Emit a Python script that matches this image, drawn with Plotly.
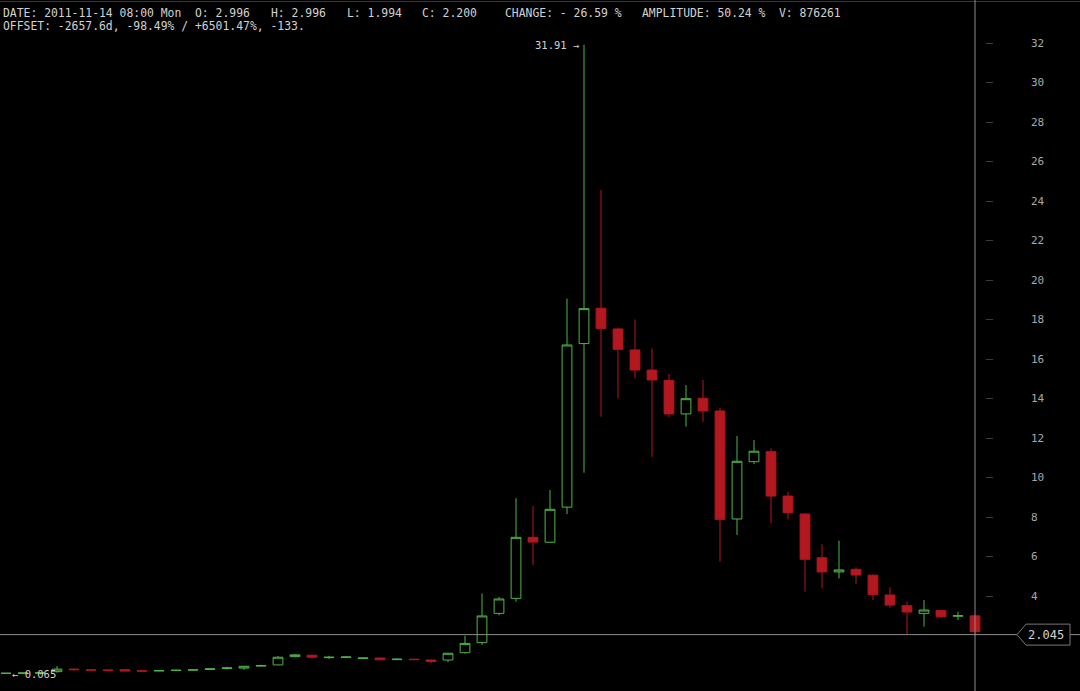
import plotly.graph_objects as go

# ---- data ----
bar_index = list(range(58))
open_p = [0.08, 0.09, 0.10, 0.17, 0.30, 0.26, 0.25, 0.27, 0.21, 0.21,
          0.23, 0.25, 0.28, 0.33, 0.35, 0.45, 0.51, 0.93, 1.00, 0.88,
          0.89, 0.84, 0.86, 0.78, 0.80, 0.76, 0.76, 1.13, 1.64, 3.12,
          3.88, 6.97, 6.72, 8.50, 16.78, 18.57, 17.52, 16.46, 15.44, 14.92,
          13.22, 14.01, 13.37, 7.90, 10.80, 11.31, 9.06, 8.15, 5.94, 5.22,
          5.35, 5.05, 4.05, 3.51, 3.12, 3.26, 2.98, 2.996]
high_p = [0.10, 0.11, 0.12, 0.45, 0.33, 0.26, 0.25, 0.29, 0.21, 0.25,
          0.25, 0.27, 0.32, 0.42, 0.46, 0.52, 0.96, 1.06, 1.03, 0.97,
          0.95, 0.88, 0.88, 0.84, 0.81, 0.78, 1.12, 1.99, 4.13, 3.95,
          8.95, 8.56, 9.37, 19.06, 31.91, 24.56, 17.60, 18.00, 16.54, 15.24,
          14.68, 14.94, 13.52, 12.10, 11.90, 11.48, 9.28, 8.20, 6.62, 6.80,
          5.45, 5.10, 4.44, 3.71, 3.80, 3.30, 3.20, 2.996]
low_p = [0.065, 0.08, 0.09, 0.12, 0.22, 0.24, 0.23, 0.19, 0.19, 0.19,
         0.22, 0.24, 0.27, 0.29, 0.26, 0.43, 0.50, 0.90, 0.82, 0.82,
         0.86, 0.82, 0.74, 0.75, 0.76, 0.60, 0.66, 1.08, 1.52, 3.03,
         3.71, 5.57, 6.70, 8.15, 10.24, 13.08, 14.01, 15.02, 11.05, 13.05,
         12.57, 12.83, 5.74, 7.09, 10.68, 7.68, 7.88, 4.22, 4.39, 4.89,
         4.61, 3.80, 3.41, 2.03, 2.45, 2.90, 2.78, 1.994]
close_p = [0.09, 0.10, 0.11, 0.30, 0.27, 0.25, 0.24, 0.20, 0.20, 0.22,
           0.24, 0.26, 0.31, 0.36, 0.44, 0.48, 0.90, 1.02, 0.90, 0.90,
           0.91, 0.86, 0.77, 0.80, 0.78, 0.68, 1.10, 1.60, 2.99, 3.85,
           6.97, 6.73, 8.39, 16.71, 18.55, 17.55, 16.49, 15.44, 14.94, 13.22,
           13.99, 13.37, 7.88, 10.82, 11.33, 9.06, 8.22, 5.86, 5.22, 5.32,
           5.06, 4.08, 3.54, 3.19, 3.29, 2.95, 3.00, 2.200]
y_tick_vals = list(range(4, 33, 2))
crosshair_price = 2.045
high_label = "31.91 \u2192"
low_label = "\u2190 0.065"
# (text, column in characters, line)
header_fields = [
    ("DATE: 2011-11-14 08:00 Mon", 0, 1),
    ("O: 2.996", 28, 1),
    ("H: 2.996", 39, 1),
    ("L: 1.994", 50, 1),
    ("C: 2.200", 61, 1),
    ("CHANGE: - 26.59 %", 73, 1),
    ("AMPLITUDE: 50.24 %", 93, 1),
    ("V: 876261", 113, 1),
    ("OFFSET: -2657.6d, -98.49% / +6501.47%, -133.", 0, 2),
]

# ---- styling ----
W, H = 1080, 691
PLOT_W = 985
GREEN = "#4fb548"
RED = "#b3171f"
TXT = "#d2d2d2"
MONO = "DejaVu Sans Mono"
CHAR_W = 6.87

fig = go.Figure()
fig.add_trace(go.Candlestick(
    x=bar_index, open=open_p, high=high_p, low=low_p, close=close_p,
    increasing=dict(line=dict(color=GREEN, width=1), fillcolor="#000000"),
    decreasing=dict(line=dict(color=RED, width=1), fillcolor=RED),
    whiskerwidth=0, showlegend=False, hoverinfo="skip",
))
# invisible helper so the label axis (y2) is drawn
fig.add_trace(go.Scatter(
    x=[bar_index[0], bar_index[-1]], y=[y_tick_vals[0], y_tick_vals[-1]],
    yaxis="y2", mode="markers", marker=dict(opacity=0),
    showlegend=False, hoverinfo="skip",
))

px_per_bar = 17.0
x0 = -6 / px_per_bar
x_range = [x0, x0 + PLOT_W / px_per_bar]
px_per_unit = 19.75
y_zero_px = 675
y_range = [-(H - y_zero_px) / px_per_unit, y_zero_px / px_per_unit]

def px_x(px):
    return px / W

def px_y(py):
    return 1 - py / H

annotations = []
for text, col, line in header_fields:
    annotations.append(dict(
        text=text, xref="paper", yref="paper",
        x=px_x(1 + col * CHAR_W), y=px_y(13 if line == 1 else 26),
        xanchor="left", yanchor="middle", showarrow=False,
        font=dict(family=MONO, size=11.4, color=TXT)))

hi_idx = high_p.index(max(high_p))
lo_idx = low_p.index(min(low_p))
annotations.append(dict(text=high_label, x=bar_index[hi_idx], y=high_p[hi_idx],
                        xref="x", yref="y", xanchor="right", yanchor="middle",
                        xshift=-3, showarrow=False,
                        font=dict(family=MONO, size=10.5, color=TXT)))
annotations.append(dict(text=low_label, x=bar_index[lo_idx], y=low_p[lo_idx],
                        xref="x", yref="y", xanchor="left", yanchor="middle",
                        xshift=4, showarrow=False,
                        font=dict(family=MONO, size=10.5, color=TXT)))
annotations.append(dict(text=f"{crosshair_price:.3f}", x=px_x(1046),
                        y=crosshair_price, xref="paper", yref="y",
                        xanchor="center", yanchor="middle", showarrow=False,
                        font=dict(family=MONO, size=12, color=TXT)))

box_half = 10.5 / px_per_unit
bx_l, bx_tip, bx_r = px_x(1017), px_x(1026), px_x(1070)
yp = crosshair_price
path = (f"M {bx_l},{yp} L {bx_tip},{yp + box_half} L {bx_r},{yp + box_half} "
        f"L {bx_r},{yp - box_half} L {bx_tip},{yp - box_half} Z")

shapes = [
    dict(type="line", xref="paper", yref="paper", x0=0, x1=1,
         y0=px_y(1.5), y1=px_y(1.5), line=dict(color="#3a3a3a", width=1)),
    dict(type="line", xref="x", yref="paper", x0=bar_index[-1], x1=bar_index[-1],
         y0=0, y1=1, line=dict(color="#8c8c8c", width=1)),
    dict(type="line", xref="paper", yref="y", x0=0, x1=bx_l,
         y0=crosshair_price, y1=crosshair_price, line=dict(color="#8c8c8c", width=1)),
    dict(type="line", xref="paper", yref="y", x0=bx_r, x1=1,
         y0=crosshair_price, y1=crosshair_price, line=dict(color="#8c8c8c", width=1)),
    dict(type="path", xref="paper", yref="y", path=path,
         line=dict(color="#7a7a7a", width=1), fillcolor="#000000"),
]

fig.update_layout(
    width=W, height=H,
    margin=dict(l=0, r=0, t=0, b=0),
    paper_bgcolor="#000000", plot_bgcolor="#000000",
    boxgap=0.18,
    xaxis=dict(domain=[0, PLOT_W / W], range=x_range, showgrid=False,
               zeroline=False, showline=False, showticklabels=False, ticks="",
               rangeslider=dict(visible=False), fixedrange=True),
    yaxis=dict(range=y_range, side="right", showgrid=False, zeroline=False,
               showline=False, tickvals=y_tick_vals, ticks="outside", ticklen=7,
               tickcolor="#3c3c3c", tickwidth=1, showticklabels=False),
    yaxis2=dict(range=y_range, overlaying="y", side="right", anchor="free",
                position=px_x(1030), showgrid=False, zeroline=False,
                showline=False, tickvals=y_tick_vals, ticks="",
                tickfont=dict(family=MONO, size=11, color="#a8a8a8")),
    annotations=annotations,
    shapes=shapes,
    showlegend=False,
)

fig.write_html("out.html",
               config={"displayModeBar": False},
               post_script="document.body.style.margin='0';"
                           "document.body.style.overflow='hidden';")
